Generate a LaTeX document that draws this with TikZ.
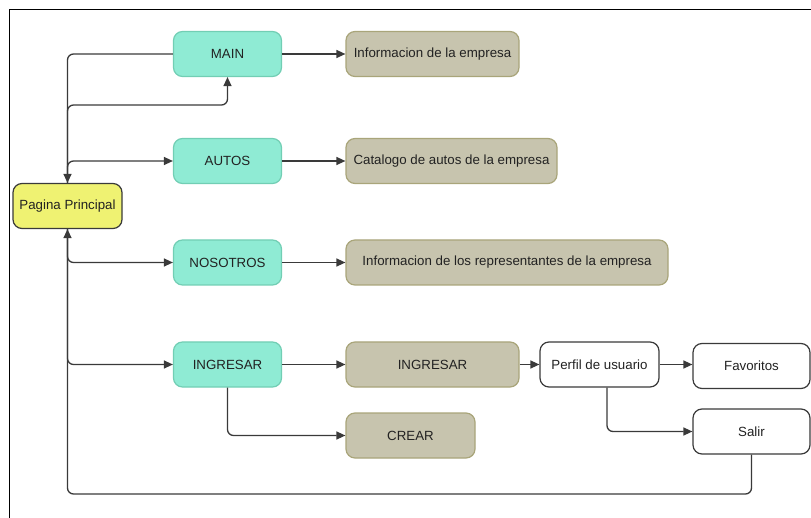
\documentclass[tikz,border=0pt]{standalone}
\usepackage{fontspec}
\setmainfont{Liberation Sans}
\usetikzlibrary{arrows.meta}

\definecolor{tealfill}{HTML}{8FEBD4}
\definecolor{tealline}{HTML}{72CEB4}
\definecolor{tanfill}{HTML}{C7C4AE}
\definecolor{tanline}{HTML}{A9A57A}
\definecolor{yelfill}{HTML}{EFF272}
\definecolor{linec}{HTML}{3A3A3A}
\definecolor{txt}{HTML}{222222}

\tikzset{
  box/.style={rectangle, rounded corners=9pt, line width=1.2pt, inner sep=0pt,
    minimum height=45pt, text=txt, font=\fontsize{13.3}{15}\selectfont},
  tealbox/.style={box, fill=tealfill, draw=tealline, minimum width=108pt},
  tanbox/.style={box, fill=tanfill, draw=tanline},
  yelbox/.style={box, fill=yelfill, draw=linec, minimum width=109pt},
  whitebox/.style={box, fill=white, draw=linec},
  conn/.style={draw=linec, line width=1.3pt, rounded corners=6pt,
    -{Triangle[length=9pt,width=8pt]}},
}

\begin{document}
\begin{tikzpicture}[x=1pt,y=-1pt]
  \useasboundingbox (0,0) rectangle (811,518);

  % frame
  \draw[black, line width=1.5pt] (9.5,518) -- (9.5,9.5) -- (811,9.5);

  % main page
  \node[yelbox] (PP) at (67.5,206) {Pagina Principal};

  % sections
  \node[tealbox] (MAIN) at (227.5,54) {MAIN};
  \node[tealbox] (AUTOS) at (227.5,161) {AUTOS};
  \node[tealbox] (NOS) at (227.5,262.5) {NOSOTROS};
  \node[tealbox] (ING) at (227.5,364.5) {INGRESAR};

  % contents
  \node[tanbox, minimum width=173pt] (INFO) at (432.5,54) {Informacion de la empresa};
  \node[tanbox, minimum width=211pt] (CAT) at (451.5,161) {Catalogo de autos de la empresa};
  \node[tanbox, minimum width=322pt] (REP) at (507,262.5) {Informacion de los representantes de la empresa};
  \node[tanbox, minimum width=173pt] (ING2) at (432.5,364.5) {INGRESAR};
  \node[tanbox, minimum width=129pt] (CREAR) at (410.5,435.5) {CREAR};

  % user area
  \node[whitebox, minimum width=119pt] (PERF) at (599.5,364.5) {Perfil de usuario};
  \node[whitebox, minimum width=117pt] (FAV) at (751.5,366) {Favoritos};
  \node[whitebox, minimum width=117pt] (SAL) at (751.5,431.5) {Salir};

  % helper points
  \coordinate (j1) at (67.5,105);
  \coordinate (bot) at (67.5,494);

  % links around the main page
  \draw[conn] (MAIN.west) -| (PP.north);
  \draw[conn] (PP.north) -- (j1) -| (MAIN.south);
  \draw[conn] (PP.north) |- (AUTOS.west);
  \draw[conn] (PP.south) |- (NOS.west);
  \draw[conn] (PP.south) |- (ING.west);
  \draw[conn] (SAL.south) -- (SAL.south |- bot) -- (bot) -- (PP.south);

  % section contents
  \draw[conn] (MAIN.east) -- (INFO.west);
  \draw[conn] (AUTOS.east) -- (CAT.west);
  \draw[conn] (NOS.east) -- (REP.west);
  \draw[conn] (ING.east) -- (ING2.west);
  \draw[conn] (ING.south) |- (CREAR.west);
  \draw[conn] (ING2.east) -- (PERF.west);
  \draw[conn] (PERF.east) -- (FAV.west |- PERF.east);
  \draw[conn] ([xshift=7.5pt]PERF.south) |- (SAL.west);
\end{tikzpicture}
\end{document}
